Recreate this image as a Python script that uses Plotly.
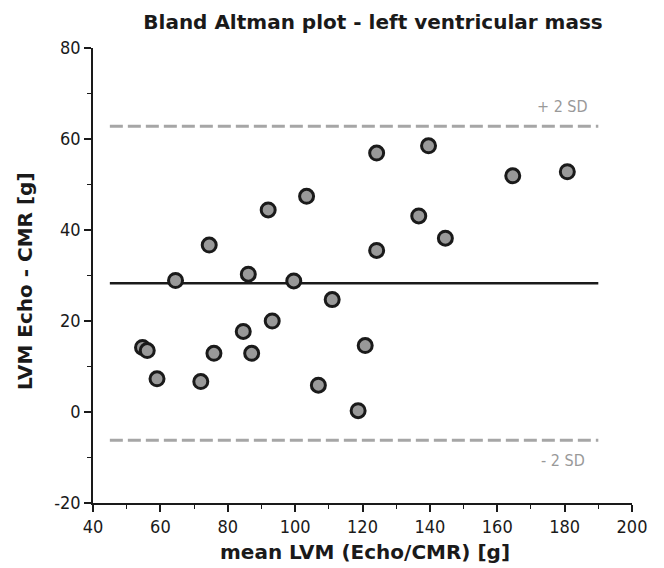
import plotly.graph_objects as go

# Data
mean_lvm = [54.7, 56.1, 59.0, 64.5, 72.0, 74.5, 75.9, 84.6, 86.1, 87.1, 92.0, 93.2,
            99.6, 103.4, 106.9, 111.0, 118.7, 120.8, 124.2, 124.2, 136.7, 139.6,
            144.6, 164.6, 180.8]
diff_lvm = [14.2, 13.5, 7.3, 28.9, 6.7, 36.7, 12.9, 17.7, 30.3, 12.9, 44.4, 20.0,
            28.8, 47.4, 5.9, 24.7, 0.3, 14.6, 56.9, 35.5, 43.1, 58.5,
            38.2, 51.9, 52.8]
line_x = [45, 190]
mean_diff = 28.3
upper_sd = 62.8
lower_sd = -6.2
x_ticks = [40, 60, 80, 100, 120, 140, 160, 180, 200]
y_ticks = [-20, 0, 20, 40, 60, 80]
y_tick_labels = ["-20", "0", "20", "40", "60", "80"]

fig = go.Figure()
fig.add_trace(go.Scatter(x=line_x, y=[upper_sd, upper_sd], mode="lines",
                         line=dict(color="#a6a6a6", width=3, dash="13px,5px"),
                         hoverinfo="skip", showlegend=False))
fig.add_trace(go.Scatter(x=line_x, y=[lower_sd, lower_sd], mode="lines",
                         line=dict(color="#a6a6a6", width=3, dash="13px,5px"),
                         hoverinfo="skip", showlegend=False))
fig.add_trace(go.Scatter(x=line_x, y=[mean_diff, mean_diff], mode="lines",
                         line=dict(color="#1a1a1a", width=2.7),
                         hoverinfo="skip", showlegend=False))
fig.add_trace(go.Scatter(x=mean_lvm, y=diff_lvm, mode="markers",
                         marker=dict(size=14, color="#999999",
                                     line=dict(color="#1a1a1a", width=3)),
                         showlegend=False))

tickfont = dict(family="DejaVu Sans Condensed", size=18, color="#1a1a1a")
axtitle = dict(family="DejaVu Sans", size=20, color="#1a1a1a", weight="bold")

common = dict(showline=True, linecolor="#1a1a1a", linewidth=1.6, ticks="outside",
              ticklen=7, tickwidth=1.6, tickcolor="#1a1a1a",
              minor=dict(ticks="outside", ticklen=4, dtick=10, tickwidth=1.4,
                         tickcolor="#1a1a1a"),
              showgrid=False, zeroline=False, tickfont=tickfont, automargin=False)
fig.update_xaxes(range=[40, 200], tickvals=x_ticks, **common)
fig.update_yaxes(range=[-20, 80], tickvals=y_ticks, ticktext=y_tick_labels, **common)

fig.add_annotation(x=179.5, y=67.1, text="+ 2 SD", showarrow=False,
                   font=dict(family="DejaVu Sans Condensed", size=16, color="#999999"))
fig.add_annotation(x=179.5, y=-10.6, text="- 2 SD", showarrow=False,
                   font=dict(family="DejaVu Sans Condensed", size=16, color="#999999"))
fig.add_annotation(xref="paper", yref="paper", x=0.505, y=-0.108,
                   text="mean LVM (Echo/CMR) [g]", showarrow=False,
                   xanchor="center", yanchor="middle", font=axtitle)
fig.add_annotation(xref="paper", yref="paper", x=-0.126, y=0.488,
                   text="LVM Echo - CMR [g]", showarrow=False, textangle=-90,
                   xanchor="center", yanchor="middle", font=axtitle)

# page body adds an 8px offset at top/left; compensate so the plot lands where
# the reference has it
fig.update_layout(
    width=656, height=560,
    margin=dict(l=85, r=32, t=40, b=65),
    plot_bgcolor="white", paper_bgcolor="white",
    title=dict(text="Bland Altman plot - left ventricular mass", x=(373 - 8) / 656,
               xanchor="center", y=1 - (22 - 8) / 560, yanchor="middle",
               font=dict(family="DejaVu Sans", size=20, color="#1a1a1a",
                         weight="bold")),
)

fig.write_html("out.html")
